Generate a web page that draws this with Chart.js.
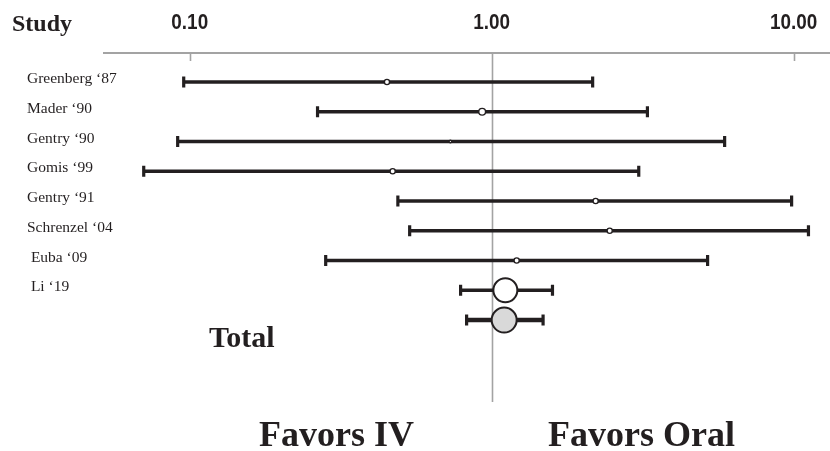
<!DOCTYPE html>
<html>
<head>
<meta charset="utf-8">
<script src="https://cdn.jsdelivr.net/npm/chart.js@4.4.1/dist/chart.umd.min.js"></script>
<style>
  html, body { margin: 0; padding: 0; background: #fff; overflow: hidden; }
  canvas { display: block; }
</style>
</head>
<body>
<canvas id="forest" width="830" height="451"></canvas>
<script>
// Studies (top to bottom), last row is the pooled total
const studies = ["Greenberg ‘87", "Mader ‘90", "Gentry ‘90", "Gomis ‘99", "Gentry ‘91",
  "Schrenzel ‘04", " Euba ‘09", " Li ‘19", "Total"];
// odds ratio estimates and 95% CI
const estimate = [0.45, 0.93, 0.73, 0.47, 2.21, 2.46, 1.21, 1.11, 1.10];
const lower = [0.0955, 0.265, 0.0912, 0.0704, 0.489, 0.535, 0.282, 0.789, 0.826];
const upper = [2.16, 3.28, 5.91, 3.07, 9.85, 11.2, 5.19, 1.59, 1.48];
const axisTicks = [0.1, 1, 10];

const ink = "#231f20";
const axisGray = "#a3a3a3";

// marker sizes: tiny for single studies, big circles for Li and total
const markerRadius = [2.6, 3.4, 1.3, 2.6, 2.6, 2.6, 2.6, 12, 12.5];
const markerFill = ["#fff", "#fff", "#fff", "#fff", "#fff", "#fff", "#fff", "#fff", "#d9d9d9"];

const ciSets = studies.map((s, i) => ({
  type: "line",
  label: s,
  data: [{ x: lower[i], y: i }, { x: upper[i], y: i }],
  borderColor: ink,
  borderWidth: i === studies.length - 1 ? 4.5 : 3.5,
  pointStyle: "line",
  rotation: 90,
  pointRadius: 5.5,
  pointBorderWidth: 3.2,
  pointBorderColor: ink,
  pointBackgroundColor: ink,
  order: 1,
  clip: false,
}));

const pointSet = {
  type: "scatter",
  label: "estimate",
  data: estimate.map((v, i) => ({ x: v, y: i })),
  pointRadius: markerRadius,
  pointBackgroundColor: markerFill,
  pointBorderColor: ink,
  pointBorderWidth: markerRadius.map(r => (r > 5 ? 2 : 1.4)),
  order: 0,
  clip: false,
};

// reference line at 1, short tick marks under the axis, tick labels above it
const refLines = {
  id: "refLines",
  beforeDatasetsDraw(chart) {
    const { ctx, chartArea, scales } = chart;
    ctx.save();
    ctx.strokeStyle = axisGray;
    ctx.lineWidth = 1.6;
    axisTicks.forEach(t => {
      const x = Math.round(scales.x.getPixelForValue(t)) + 0.5;
      ctx.beginPath();
      ctx.moveTo(x, chartArea.top);
      ctx.lineTo(x, t === 1 ? chartArea.bottom : chartArea.top + 8);
      ctx.stroke();
    });
    // narrow bold tick labels
    ctx.fillStyle = ink;
    ctx.font = "bold 22px 'Liberation Sans', Arial, sans-serif";
    ctx.textAlign = "center";
    ctx.textBaseline = "alphabetic";
    axisTicks.forEach(t => {
      const x = scales.x.getPixelForValue(t);
      ctx.save();
      ctx.translate(x, 29);
      ctx.scale(0.86, 1);
      ctx.fillText(t.toFixed(2), 0, 0);
      ctx.restore();
    });
    ctx.restore();
  },
};

// study names and captions
const textLayer = {
  id: "textLayer",
  afterDraw(chart) {
    const { ctx, scales } = chart;
    ctx.save();
    ctx.fillStyle = ink;
    ctx.textAlign = "left";
    ctx.textBaseline = "alphabetic";

    ctx.font = "bold 24px 'Liberation Serif', 'Times New Roman', serif";
    ctx.fillText("Study", 12, 31);

    ctx.font = "15.5px 'Liberation Serif', 'Times New Roman', serif";
    ctx.textBaseline = "middle";
    studies.forEach((s, i) => {
      if (i === studies.length - 1) return;
      ctx.fillText(s, 27, scales.y.getPixelForValue(i) - 3);
    });

    ctx.textBaseline = "alphabetic";
    ctx.font = "bold 30px 'Liberation Serif', 'Times New Roman', serif";
    ctx.fillText(studies[studies.length - 1], 209, 347);

    ctx.font = "bold 36px 'Liberation Serif', 'Times New Roman', serif";
    ctx.fillText("Favors IV", 259, 446);
    ctx.fillText("Favors Oral", 548, 446);
    ctx.restore();
  },
};

new Chart(document.getElementById("forest"), {
  data: { datasets: [pointSet, ...ciSets] },
  options: {
    responsive: false,
    animation: false,
    devicePixelRatio: 1,
    layout: { autoPadding: false, padding: { top: 53, left: 104, right: 0, bottom: 49 } },
    plugins: { legend: { display: false }, tooltip: { enabled: false } },
    scales: {
      x: {
        type: "logarithmic",
        position: "top",
        min: 0.052,
        max: 13.2,
        grid: { display: false, drawTicks: false },
        border: { display: true, color: axisGray, width: 2 },
        ticks: { display: false },
      },
      y: {
        type: "linear",
        display: false,
        reverse: true,
        min: -0.975,
        max: 10.756,
      },
    },
  },
  plugins: [refLines, textLayer],
});
</script>
</body>
</html>
